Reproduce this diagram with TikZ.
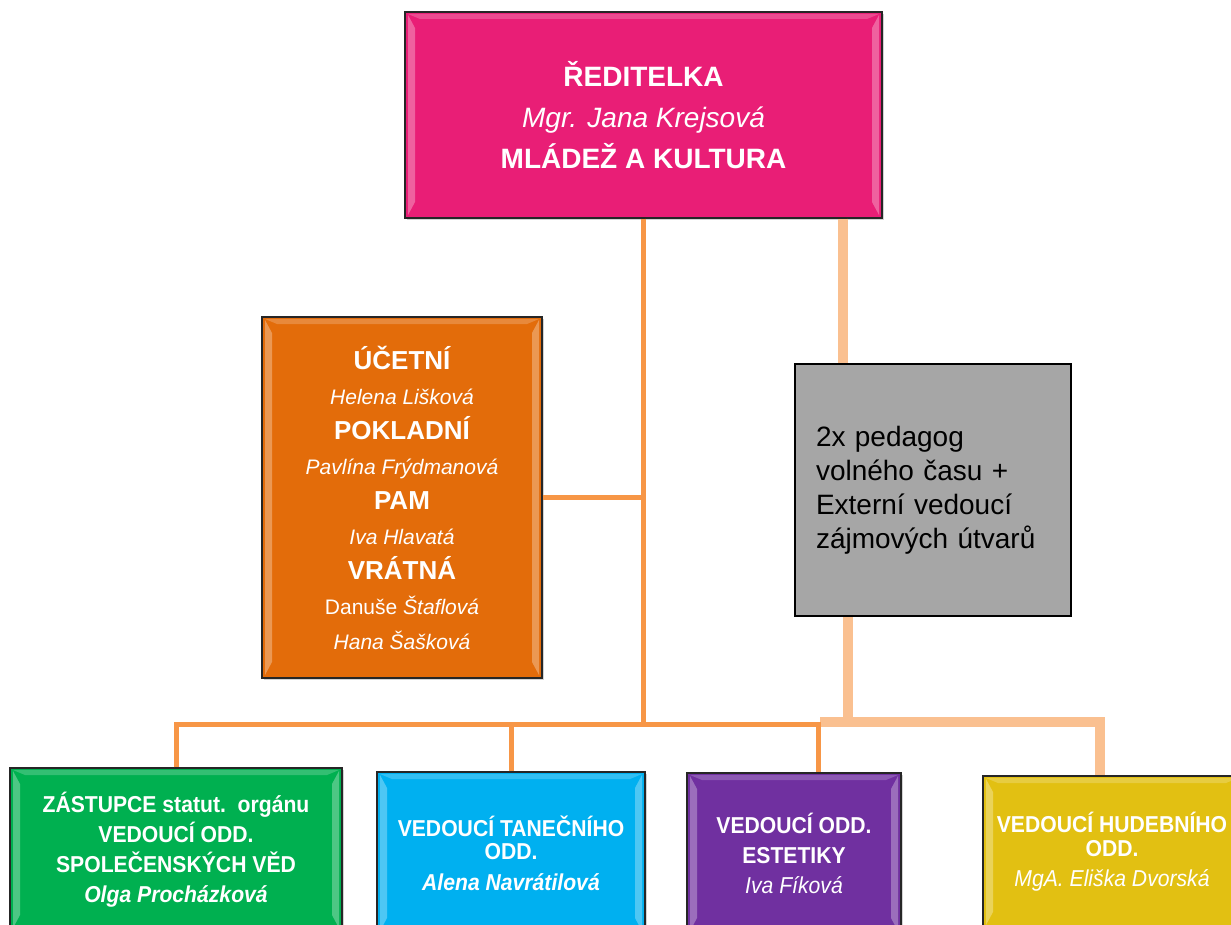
\documentclass[tikz,border=0pt]{standalone}
\usepackage{fontspec}
\setmainfont{Liberation Sans}
\newfontfamily\narrowfont{Liberation Sans}[FakeStretch=0.92]
\usetikzlibrary{calc}
\usetikzlibrary{positioning}
\usetikzlibrary{shadows}
\definecolor{pink2}{RGB}{233, 30, 118}
\definecolor{orange2}{RGB}{227, 108, 10}
\definecolor{gray2}{RGB}{166, 166, 166}
\definecolor{green2}{RGB}{0, 176, 80}
\definecolor{blue2}{RGB}{0, 176, 240}
\definecolor{purple2}{RGB}{112, 48, 160}
\definecolor{yellow2}{RGB}{226, 192, 18}
\definecolor{line1}{RGB}{247, 150, 70}
\definecolor{line2}{RGB}{250, 192, 144}
\tikzset{
bevel/.style={
	path picture={
		\fill[white, opacity=0.3] ([shift={(3pt,3pt)}]path picture bounding box.south west) -- ([shift={(3pt,-3pt)}]path picture bounding box.north west) -- ([shift={(10pt,-16pt)}]path picture bounding box.north west) -- ([shift={(10pt,16pt)}]path picture bounding box.south west) -- cycle;
		\fill[white, opacity=0.3] ([shift={(-3pt,3pt)}]path picture bounding box.south east) -- ([shift={(-3pt,-3pt)}]path picture bounding box.north east) -- ([shift={(-10pt,-16pt)}]path picture bounding box.north east) -- ([shift={(-10pt,16pt)}]path picture bounding box.south east) -- cycle;
		\fill[white, opacity=0.2] ([shift={(3pt,-2pt)}]path picture bounding box.north west) -- ([shift={(-3pt,-2pt)}]path picture bounding box.north east) -- ([shift={(-15pt,-7pt)}]path picture bounding box.north east) -- ([shift={(15pt,-7pt)}]path picture bounding box.north west) -- cycle;
	}
},
unit/.style 2 args={draw=black!85, line width=1.2pt, fill=#1, text=white, align=center,
	minimum width=#2, inner sep=0pt, bevel,
	drop shadow={shadow xshift=2pt, shadow yshift=-2pt, opacity=0.35}},
dept/.style 2 args={unit={#1}{#2}, font=\narrowfont\fontsize{23}{30}\selectfont\bfseries},
}

\begin{document}
\begin{tikzpicture}[x=1pt, y=-1pt]
\tikzstyle{link}=[line1, line width=5pt]
\tikzstyle{extlink}=[line2, line width=10pt]
\useasboundingbox (0,0) rectangle (1231,925);
\clip (0,0) rectangle (1231,925);
%Place the nodes
\node[unit={pink2}{477pt}, minimum height=206pt, font=\fontsize{28}{41}\selectfont\bfseries] (head) at (643.5,115) {ŘEDITELKA\\{\mdseries\itshape Mgr. Jana Krejsová}\\MLÁDEŽ A KULTURA};
\node[unit={orange2}{280pt}, minimum height=361pt, font=\fontsize{26}{35}\selectfont\bfseries] (acct) at (402,497.5) {ÚČETNÍ\\{\fontsize{21}{35}\selectfont\mdseries\itshape Helena Lišková}\\POKLADNÍ\\{\fontsize{21}{35}\selectfont\mdseries\itshape Pavlína Frýdmanová}\\PAM\\{\fontsize{21}{35}\selectfont\mdseries\itshape Iva Hlavatá}\\VRÁTNÁ\\{\fontsize{21}{35}\selectfont\mdseries Danuše {\itshape Štaflová}}\\{\fontsize{21}{35}\selectfont\mdseries\itshape Hana Šašková}};
\node[draw=black, line width=2pt, fill=gray2, minimum width=276pt, minimum height=252pt, text width=234pt, inner xsep=21pt, align=left, font=\fontsize{28}{34}\selectfont] (free) at (933,490) {2x pedagog\\volného času +\\Externí vedoucí\\zájmových útvarů};

\node[dept={green2}{332pt}, minimum height=163pt] (zast) at (176,849.5) {ZÁSTUPCE statut.\ \ orgánu\\VEDOUCÍ ODD.\\SPOLEČENSKÝCH VĚD\\{\itshape Olga Procházková}};
\node[dept={blue2}{268pt}, minimum height=162pt, font=\narrowfont\fontsize{23}{23}\selectfont\bfseries] (tanec) at (511,853) {VEDOUCÍ TANEČNÍHO\\ODD.\\[8pt]{\itshape Alena Navrátilová}};
\node[dept={purple2}{214pt}, minimum height=161pt] (estet) at (794,853.5) {VEDOUCÍ ODD.\\ESTETIKY\\{\mdseries\itshape Iva Fíková}};
\node[dept={yellow2}{258pt}, minimum height=152pt, font=\narrowfont\fontsize{23}{24}\selectfont\bfseries] (hudba) at (1112,852) {VEDOUCÍ HUDEBNÍHO\\ODD.\\[6pt]{\mdseries\itshape MgA. Eliška Dvorská}};

%Junctions
\coordinate (trunk) at (643,724);
\coordinate (lt) at (843,0);
\coordinate (lb) at (848,0);
\coordinate (extbus) at (820,722);

%
\draw[extlink] (head.south -| lt) -- (free.north -| lt);
\draw[extlink] (free.south -| lb) -- (lb |- extbus);
\draw[extlink, line join=miter] (extbus) -| ([xshift=-12pt]hudba.north);

%
\draw[link] (head.south -| trunk) -- (trunk);
\draw[link] (acct.east) -- (acct.east -| trunk);
\draw[link] (zast.north) |- (trunk);
\draw[link] (tanec.north) -- (tanec.north |- trunk);
\draw[link] (trunk) -| ([xshift=24pt]estet.north);

\end{tikzpicture}
\end{document}
